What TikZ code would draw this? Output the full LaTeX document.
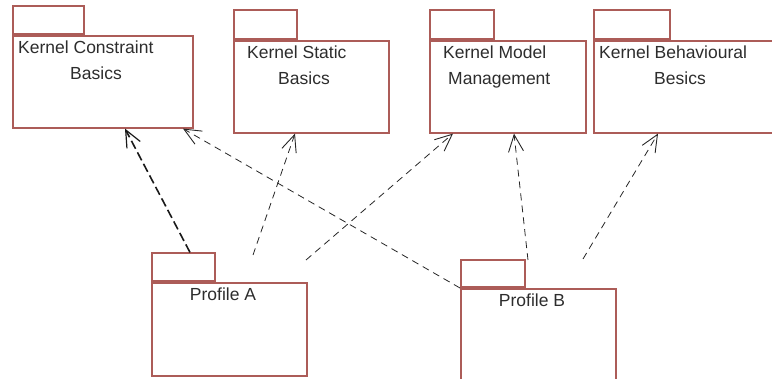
\documentclass[tikz,border=0pt]{standalone}
\usepackage{fontspec}
\setmainfont{Liberation Sans}
\usetikzlibrary{arrows.meta}
\definecolor{pkgred}{RGB}{172,92,88}
\definecolor{txt}{RGB}{45,45,45}
\tikzset{
  pkg/.style={draw=pkgred, line width=1.6pt, fill=white, inner sep=0pt, anchor=north west},
  lbl/.style={text=txt, inner sep=0pt, font=\fontsize{17.5}{20}\selectfont},
  dep/.style={draw=black!85, line width=0.8pt, dash pattern=on 7pt off 5pt,
    -{Straight Barb[length=17pt, width=15pt, line width=0.9pt]}},
  depthick/.style={draw=black!90, line width=1.6pt, dash pattern=on 9pt off 4pt,
    -{Straight Barb[length=17pt, width=15pt, line width=1.2pt]}}
}
\begin{document}
\begin{tikzpicture}[x=1pt,y=-1pt]
\useasboundingbox (0,0) rectangle (772,379);
\clip (0,0) rectangle (772,379);
% Kernel Constraint Basics
\node[pkg, minimum width=180pt, minimum height=92pt] (kcb) at (12,35) {};
\node[pkg, minimum width=71pt, minimum height=28pt, anchor=south west] (kcbtab) at (kcb.north west) {};
\node[lbl, anchor=base west] (kcbl1) at (18,54) {Kernel Constraint};
\node[lbl, anchor=base] (kcbl2) at (96,80) {Basics};
% Kernel Static Basics
\node[pkg, minimum width=155pt, minimum height=92pt] (ksb) at (233,40) {};
\node[pkg, minimum width=63pt, minimum height=29pt, anchor=south west] (ksbtab) at (ksb.north west) {};
\node[lbl, anchor=base west] (ksbl1) at (247,59) {Kernel Static};
\node[lbl, anchor=base] (ksbl2) at (304,85) {Basics};
% Kernel Model Management
\node[pkg, minimum width=156pt, minimum height=92pt] (kmm) at (429,40) {};
\node[pkg, minimum width=64pt, minimum height=29pt, anchor=south west] (kmmtab) at (kmm.north west) {};
\node[lbl, anchor=base west] (kmml1) at (443,59) {Kernel Model};
\node[lbl, anchor=base west] (kmml2) at (448,85) {Management};
% Kernel Behavioural Besics (right side runs off the picture)
\node[pkg, minimum width=190pt, minimum height=92pt] (kbb) at (593,40) {};
\node[pkg, minimum width=76pt, minimum height=29pt, anchor=south west] (kbbtab) at (kbb.north west) {};
\node[lbl, anchor=base west] (kbbl1) at (599,59) {Kernel Behavioural};
\node[lbl, anchor=base] (kbbl2) at (680,85) {Besics};
% Profile A
\node[pkg, minimum width=155pt, minimum height=93pt] (pa) at (151,282) {};
\node[pkg, minimum width=63pt, minimum height=28pt, anchor=south west] (patab) at (pa.north west) {};
\node[lbl, anchor=base] (pal) at (223,301) {Profile A};
% Profile B (bottom runs off the picture)
\node[pkg, minimum width=155pt, minimum height=100pt] (pb) at (460,288) {};
\node[pkg, minimum width=64pt, minimum height=27pt, anchor=south west] (pbtab) at (pb.north west) {};
\node[lbl, anchor=base] (pbl) at (532,307) {Profile B};
% free ends
\coordinate (s3) at (253,255);
\coordinate (s4) at (306,260);
\coordinate (s5) at (528,260);
\coordinate (s6) at (583,259);
% connectors
\draw[depthick] ([xshift=39pt]patab.north west) -- ([xshift=113pt]kcb.south west);
\draw[dep] (pb.north west) -- ([xshift=171pt]kcb.south west);
\draw[dep] (s3) -- ([xshift=62pt]ksb.south west);
\draw[dep] (s4) -- ([xshift=24pt]kmm.south west);
\draw[dep] (s5) -- ([xshift=85pt]kmm.south west);
\draw[dep] (s6) -- ([xshift=65pt]kbb.south west);
\end{tikzpicture}
\end{document}
